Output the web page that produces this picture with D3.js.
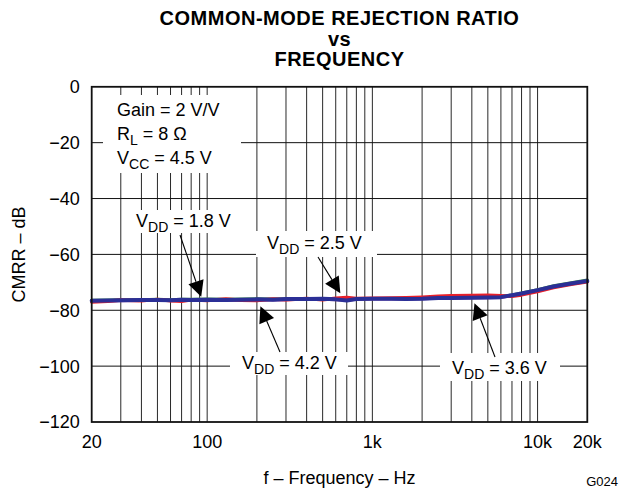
<!DOCTYPE html>
<html>
<head>
<meta charset="utf-8">
<script src="https://cdn.jsdelivr.net/npm/d3@7"></script>
<style>
  html, body { margin: 0; padding: 0; background: #fff; }
  svg { display: block; }
  text { font-family: "Liberation Sans", Arial, Helvetica, sans-serif; fill: #000; }
</style>
</head>
<body>
<svg id="chart" width="630" height="497"></svg>
<script>
// ---------------- data ----------------
const freqs = [20, 25, 30, 40, 50, 60, 70, 80, 100, 130, 160, 200, 250, 300, 400, 500, 600, 700, 800, 1000,
               1300, 1600, 2000, 2500, 3000, 4000, 5000, 6000, 7000, 8000, 10000, 12500, 16000, 20000];
const cmrrGreen  = [-76.4, -76.3, -76.2, -76.2, -76.1, -76.2, -76.1, -76.1, -76.0, -76.1, -76.0, -75.9, -76.0, -75.9, -75.8, -75.8, -75.9, -76.2, -75.9, -75.8,
                    -75.8, -75.8, -75.7, -75.5, -75.4, -75.3, -75.2, -75.1, -74.5, -73.8, -72.6, -71.2, -70.1, -69.2];
const cmrrPurple = [-76.9, -76.7, -76.6, -76.5, -76.5, -76.5, -76.4, -76.5, -76.4, -76.4, -76.3, -76.3, -76.3, -76.2, -76.1, -76.1, -76.2, -76.4, -76.1, -76.0,
                    -76.0, -76.0, -75.9, -75.7, -75.6, -75.5, -75.5, -75.4, -74.8, -74.2, -73.0, -71.6, -70.5, -69.6];
const cmrrRed    = [-77.0, -76.8, -76.3, -76.6, -76.1, -76.6, -76.8, -76.2, -76.5, -76.0, -76.4, -76.5, -76.0, -76.2, -75.8, -76.2, -75.7, -75.4, -75.8, -75.7,
                    -75.6, -75.5, -75.3, -75.0, -74.8, -74.7, -74.6, -74.8, -75.0, -74.5, -73.3, -71.9, -70.7, -69.8];
const cmrrBlue   = [-76.6, -76.5, -76.4, -76.3, -76.3, -76.4, -76.2, -76.3, -76.2, -76.3, -76.2, -76.1, -76.2, -76.0, -76.0, -75.9, -76.1, -76.5, -76.0, -75.9,
                    -75.9, -76.0, -75.9, -75.6, -75.6, -75.5, -75.4, -75.3, -74.6, -74.0, -72.8, -71.5, -70.4, -69.5];

const seriesNames  = ["green", "purple", "red", "blue"];
const seriesValues = [cmrrGreen, cmrrPurple, cmrrRed, cmrrBlue];
const seriesColors = ["#3d8a4e", "#9a4a9c", "#e8202a", "#2b2f96"];
const seriesWidths = [3, 3, 3.5, 4];

const yTicks = [0, -20, -40, -60, -80, -100, -120];
const yTickLabels = ["0", "\u221220", "\u221240", "\u221260", "\u221280", "\u2212100", "\u2212120"];
const xTicks = [20, 100, 1000, 10000, 20000];
const xTickLabels = ["20", "100", "1k", "10k", "20k"];
const xGrid = [30, 40, 50, 60, 70, 80, 90, 100, 200, 300, 400, 500, 600, 700, 800, 900, 1000,
               2000, 3000, 4000, 5000, 6000, 7000, 8000, 9000, 10000];

const titleLines = ["COMMON-MODE REJECTION RATIO", "vs", "FREQUENCY"];
const yTitle = "CMRR \u2013 dB";
const xTitle = "f \u2013 Frequency \u2013 Hz";
const figId = "G024";

// annotations: label parts [text, isSub], arrow tip in data units (Hz, dB)
const annLabels = [
  [["V", false], ["DD", true], [" = 1.8 V", false]],
  [["V", false], ["DD", true], [" = 2.5 V", false]],
  [["V", false], ["DD", true], [" = 4.2 V", false]],
  [["V", false], ["DD", true], [" = 3.6 V", false]]
];
const annTipF  = [92, 640, 210, 4150];
const annTipDb = [-75.2, -73.9, -78.6, -77.5];

// ---------------- layout ----------------
const L = 91.7, R = 587.3, T = 86.8, B = 422;
const svg = d3.select("#chart");
const x = d3.scaleLog().domain([20, 20000]).range([L, R]);
const y = d3.scaleLinear().domain([-120, 0]).range([B, T]);

// grid
const grid = svg.append("g");
grid.selectAll("line.v").data(xGrid).join("line")
  .attr("x1", d => x(d)).attr("x2", d => x(d))
  .attr("y1", T).attr("y2", B)
  .attr("stroke", "#111").attr("stroke-width", 0.9);
grid.selectAll("line.h").data(yTicks.slice(1, -1)).join("line")
  .attr("x1", L).attr("x2", R)
  .attr("y1", d => y(d)).attr("y2", d => y(d))
  .attr("stroke", "#111").attr("stroke-width", 1);

// white label boxes covering the grid
const boxes = [
  [103, 95, 138, 78],   // Gain box
  [128, 210, 109, 23],  // 1.8
  [256, 231, 121, 26],  // 2.5
  [230, 352, 118, 23],  // 4.2
  [440, 353, 120, 28]   // 3.6
];
svg.append("g").selectAll("rect").data(boxes).join("rect")
  .attr("x", d => d[0]).attr("y", d => d[1]).attr("width", d => d[2]).attr("height", d => d[3])
  .attr("fill", "#fff");

// curves
const line = d3.line().x((d, i) => x(freqs[i])).y(d => y(d));
svg.append("g").selectAll("path").data(seriesValues).join("path")
  .attr("d", d => line(d))
  .attr("fill", "none")
  .attr("stroke", (d, i) => seriesColors[i])
  .attr("stroke-width", (d, i) => seriesWidths[i])
  .attr("stroke-linejoin", "round").attr("stroke-linecap", "round");

// frame
svg.append("rect").attr("x", L).attr("y", T).attr("width", R - L).attr("height", B - T)
  .attr("fill", "none").attr("stroke", "#111").attr("stroke-width", 1.8);

// y axis tick labels
svg.append("g").selectAll("text").data(yTicks).join("text")
  .attr("x", L - 12).attr("y", d => y(d)).attr("dy", "0.36em")
  .attr("text-anchor", "end").attr("font-size", 18)
  .text((d, i) => yTickLabels[i]);

// x axis tick labels
svg.append("g").selectAll("text").data(xTicks).join("text")
  .attr("x", d => x(d)).attr("y", 448)
  .attr("text-anchor", "middle").attr("font-size", 18)
  .text((d, i) => xTickLabels[i]);

// titles
const cx = (L + R) / 2;
const titleY = [25, 45.5, 66];
svg.append("g").selectAll("text").data(titleLines).join("text")
  .attr("x", cx).attr("y", (d, i) => titleY[i])
  .attr("text-anchor", "middle").attr("font-size", 20).attr("font-weight", "bold")
  .attr("letter-spacing", 0.5)
  .text(d => d);

svg.append("text").attr("transform", `translate(25,${(T + B) / 2}) rotate(-90)`)
  .attr("text-anchor", "middle").attr("font-size", 18).text(yTitle);
svg.append("text").attr("x", cx).attr("y", 484)
  .attr("text-anchor", "middle").attr("font-size", 18).text(xTitle);
svg.append("text").attr("x", 618).attr("y", 486)
  .attr("text-anchor", "end").attr("font-size", 13).text(figId);

// Gain/RL/VCC block
function richText(g, xPos, yPos, parts, size, subSize) {
  const t = g.append("text").attr("x", xPos).attr("y", yPos).attr("font-size", size);
  let shifted = false;
  parts.forEach(([s, sub]) => {
    const ts = t.append("tspan").text(s);
    if (sub && !shifted) { ts.attr("dy", 5).attr("font-size", subSize); shifted = true; }
    else if (!sub && shifted) { ts.attr("dy", -5); shifted = false; }
  });
  return t;
}
const cond = svg.append("g");
richText(cond, 117, 116, [["Gain = 2 V/V", false]], 18, 14);
richText(cond, 117, 140, [["R", false], ["L", true], [" = 8 \u03A9", false]], 18, 14);
richText(cond, 117, 164, [["V", false], ["CC", true], [" = 4.5 V", false]], 18, 14);

// annotations
const labelPos = [[136, 227], [267, 248.5], [242, 368.5], [452, 374]];
const arrowStart = [[180, 235], [318, 257], [280, 352], [495, 357]];
const ann = svg.append("g");
annLabels.forEach((parts, i) => {
  richText(ann, labelPos[i][0], labelPos[i][1], parts, 18, 14);
  const tx = x(annTipF[i]), ty = y(annTipDb[i]);
  const [sx, sy] = arrowStart[i];
  const ang = Math.atan2(ty - sy, tx - sx);
  const hl = 16, hw = 8;
  const bx = tx - hl * Math.cos(ang), by = ty - hl * Math.sin(ang);
  ann.append("line").attr("x1", sx).attr("y1", sy).attr("x2", bx).attr("y2", by)
    .attr("stroke", "#000").attr("stroke-width", 1.1);
  const p1 = [bx + hw * Math.sin(ang), by - hw * Math.cos(ang)];
  const p2 = [bx - hw * Math.sin(ang), by + hw * Math.cos(ang)];
  ann.append("path").attr("d", `M${tx},${ty}L${p1[0]},${p1[1]}L${p2[0]},${p2[1]}Z`).attr("fill", "#000");
});
</script>
</body>
</html>
